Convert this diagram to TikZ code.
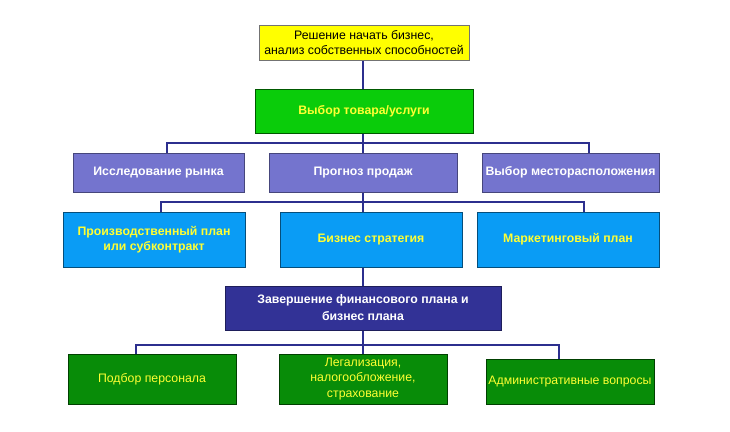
\documentclass[tikz,border=0pt]{standalone}
\usepackage{fontspec}
\setmainfont{Liberation Sans}
\usepackage{tikz}
\usetikzlibrary{positioning, calc, backgrounds}

\definecolor{boxyellow}{HTML}{FFFF00}
\definecolor{boxlime}{HTML}{0ACC0A}
\definecolor{boxviolet}{HTML}{7474CE}
\definecolor{boxsky}{HTML}{0A9CF5}
\definecolor{boxnavy}{HTML}{323296}
\definecolor{boxgreen}{HTML}{088C08}
\definecolor{textyellow}{HTML}{FFFF33}
\definecolor{linenavy}{HTML}{2C2F8E}

\tikzset{
    box/.style={rectangle, draw, line width=0.8pt, align=center, inner sep=1pt,
        font=\fontsize{12.3}{14.5}\selectfont},
    startbox/.style={box, fill=boxyellow, draw=black!55, text=black},
    choicebox/.style={box, fill=boxlime, draw=green!35!black, text=textyellow, font=\fontsize{12.3}{14.5}\selectfont\bfseries},
    studybox/.style={box, fill=boxviolet, draw=boxviolet!60!black, text=white, font=\fontsize{12.3}{14.5}\selectfont\bfseries},
    planbox/.style={box, fill=boxsky, draw=boxsky!50!black, text=textyellow, font=\fontsize{12.3}{14.5}\selectfont\bfseries},
    finalbox/.style={box, fill=boxnavy, draw=boxnavy!60!black, text=white, font=\fontsize{12.3}{17}\selectfont\bfseries},
    taskbox/.style={box, fill=boxgreen, draw=green!25!black, text=textyellow, font=\fontsize{12.3}{15.5}\selectfont},
    link/.style={linenavy, line width=2.2pt}
}

\begin{document}
\begin{tikzpicture}[x=1pt, y=-1pt]
    \useasboundingbox (0,0) rectangle (730,431);

    % top of the tree
    \node[startbox, minimum width=210, minimum height=35] (start) at (364,42.5)
        {Решение начать бизнес,\\анализ собственных способностей};
    \node[choicebox, minimum width=218, minimum height=44] (choice) at (364,111)
        {Выбор товара/услуги};

    % second level
    \node[studybox, minimum width=171, minimum height=39] (market) at (158.5,172.5) {Исследование рынка};
    \node[studybox, minimum width=188, minimum height=39] (sales) at (363,172.5) {Прогноз продаж};
    \node[studybox, minimum width=177, minimum height=39] (place) at (570.5,172.5) {Выбор месторасположения};

    % third level
    \node[planbox, minimum width=182, minimum height=55] (production) at (154,239.5)
        {Производственный план\\или субконтракт};
    \node[planbox, minimum width=182, minimum height=55] (strategy) at (371,239.5) {Бизнес стратегия};
    \node[planbox, minimum width=182, minimum height=55] (marketing) at (568,239.5) {Маркетинговый план};

    % financial plan
    \node[finalbox, minimum width=276, minimum height=44] (finance) at (363,308)
        {Завершение финансового плана и\\бизнес плана};

    % last level
    \node[taskbox, minimum width=168, minimum height=50] (staff) at (152,379) {Подбор персонала};
    \node[taskbox, minimum width=168, minimum height=50] (legal) at (363,379)
        {Легализация,\\налогообложение,\\страхование};
    \node[taskbox, minimum width=168, minimum height=45] (admin) at (570,381.5) {Административные вопросы};

    \coordinate (bus1) at (363,143);
    \coordinate (bus2) at (363,202);
    \coordinate (bus3) at (363,345);

    \begin{pgfonlayer}{background}
        % trunk
        \draw[link] (start.south -| bus1) -- (legal.north -| bus1);

        % branches
        \draw[link] ($(market.north)+(8.5,0)$) |- (bus1) -| ($(place.north)+(18.5,0)$);
        \draw[link] ($(production.north)+(7,0)$) |- (bus2) -| ($(marketing.north)+(16,0)$);
        \draw[link] ($(staff.north)+(-16,0)$) |- (bus3) -| ($(admin.north)+(-11,0)$);
    \end{pgfonlayer}
\end{tikzpicture}
\end{document}
